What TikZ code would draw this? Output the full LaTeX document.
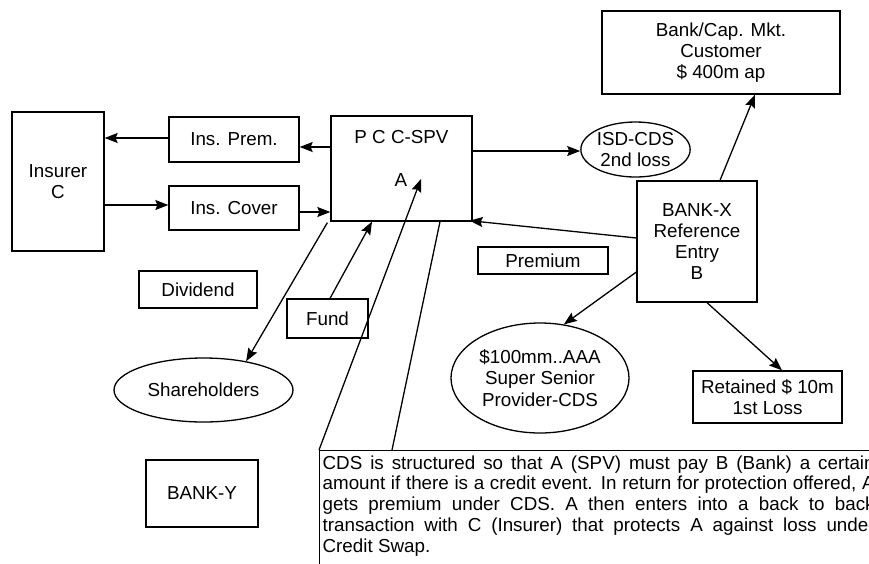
\documentclass[tikz,border=0pt]{standalone}
\usepackage{fontspec}
\setmainfont{Liberation Sans}
\usetikzlibrary{shapes.geometric,arrows.meta,calc}
\begin{document}
\begin{tikzpicture}[x=1pt,y=-1pt,line width=1.3pt,
  every node/.style={font=\fontsize{18.8}{21.3}\selectfont,align=center},
  box/.style={draw,rectangle,inner sep=0pt},
  oval/.style={draw,ellipse,inner sep=0pt},
  arr/.style={-{Stealth[length=13pt,width=10pt,inset=2pt]}}]

% page frame (also clips the note box that runs off the edges)
\path[use as bounding box,fill=white] (0,0) rectangle (869,563);
\clip (0,0) rectangle (869,563);

% boxes and ovals
\node[box,minimum width=92pt,minimum height=139pt] (insurer) at (58,181.5) {Insurer\\C};
\node[box,minimum width=130pt,minimum height=45pt] (insprem) at (234,139.5) {Ins. Prem.};
\node[box,minimum width=130pt,minimum height=44pt] (inscover) at (234,208) {Ins. Cover};
\node[box,minimum width=141pt,minimum height=105pt] (spv) at (401.5,168.5) {};
\node (spvname) at (401.5,137) {P C C-SPV};
\node (spvA) at (401,180.5) {A};
\node[oval,minimum width=105pt,minimum height=55pt] (isd) at (635.5,149.5) {ISD-CDS\\2nd loss};
\node[box,minimum width=238pt,minimum height=83pt] (bankcap) at (721,52.5) {Bank/Cap. Mkt.\\Customer\\\$ 400m ap};
\node[box,minimum width=120pt,minimum height=121pt] (bankx) at (697,241.5) {BANK-X\\Reference\\Entry\\B};
\node[box,minimum width=130pt,minimum height=27pt] (premium) at (543,260.5) {Premium};
\node[box,minimum width=118pt,minimum height=37pt] (dividend) at (198,289.5) {Dividend};
\node[box,minimum width=81pt,minimum height=39pt] (fund) at (327.5,318.5) {Fund};
\node[oval,minimum width=179pt,minimum height=64pt] (holders) at (203.5,390) {Shareholders};
\node[oval,minimum width=178pt,minimum height=110pt] (aaa) at (540,378) {\$100mm..AAA\\Super Senior\\Provider-CDS};
\node[box,minimum width=149pt,minimum height=52pt] (retained) at (767.5,397) {Retained \$ 10m\\1st Loss};
\node[box,minimum width=112pt,minimum height=67pt] (banky) at (202,493.5) {BANK-Y};

% explanatory note
\node[draw,anchor=north west,text width=552pt,align=justify,inner xsep=3pt,inner ysep=5pt,
      font=\fontsize{18.8}{20.7}\selectfont] (desc) at (319,450)
 {CDS is structured so that A (SPV) must pay B (Bank) a certain\linebreak
  amount if there is a credit event. In return for protection offered, A\linebreak
  gets premium under CDS. A then enters into a back to back\linebreak
  transaction with C (Insurer) that protects A against loss under\linebreak
  Credit Swap.\rule[-30pt]{0pt}{30pt}};

% connectors
\draw[arr] (insprem.west |- 0,138) -- (insurer.east |- 0,138);
\draw[arr] (spv.west |- 0,147) -- (insprem.east |- 0,147);
\draw[arr] (insurer.east |- 0,205) -- (inscover.west |- 0,205);
\draw[arr] (inscover.east |- 0,212) -- (spv.west |- 0,212);
\draw[arr] (spv.east |- 0,151) -- (isd.west |- 0,151);
\draw[arr] (bankx.north -| 720,0) -- (bankcap.south -| 755,0);
\draw[arr] (bankx.west |- 0,238) -- ($(spv.south east)+(-3,-1)$);
\draw[arr] (bankx.west |- 0,272) -- (aaa.66);
\draw[arr] (bankx.south -| 707,0) -- (retained.north -| 782,0);
\draw[arr] ($(spv.south west)+(-3,1)$) -- (holders.34);
\draw[arr] (fund.north -| 330,0) -- (spv.south -| 372,0);
\coordinate (atip) at (421,179);
\draw[arr] (desc.north west) -- (atip);
\draw (spv.south -| 440,0) -- (desc.north -| 392,0);
\end{tikzpicture}
\end{document}
